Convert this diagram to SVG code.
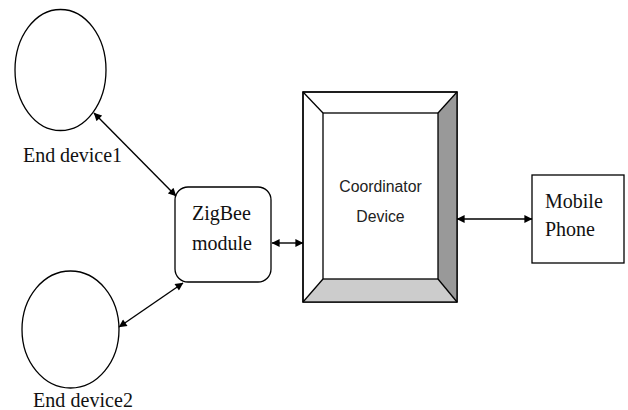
<svg xmlns="http://www.w3.org/2000/svg" width="628" height="410" viewBox="0 0 628 410">
<style>
.ln{stroke:#000;stroke-width:1.3;fill:none}
.sf{font-family:"Liberation Serif","Times New Roman",serif;font-size:20px;fill:#111}
.ss{font-family:"Liberation Sans",Arial,sans-serif;font-size:15.8px;fill:#222}
.con{stroke:#000;stroke-width:1.4;fill:none;marker-start:url(#ah);marker-end:url(#ah)}
</style>
<defs>
<marker id="ah" viewBox="0 0 10 10" refX="9.5" refY="5" markerWidth="9" markerHeight="8" markerUnits="userSpaceOnUse" orient="auto-start-reverse">
<path d="M0,0 L10,5 L0,10 z" fill="#000"/>
</marker>
</defs>
<rect width="628" height="410" fill="#fff"/>
<g id="end1">
<ellipse class="ln" cx="60.5" cy="70" rx="45.5" ry="60.5"/>
<text class="sf" x="23" y="162" textLength="99">End device1</text>
</g>
<g id="end2">
<ellipse class="ln" cx="70.5" cy="329.5" rx="48.5" ry="58.5"/>
<text class="sf" x="33" y="407" textLength="100">End device2</text>
</g>
<g id="zigbee">
<rect class="ln" x="175" y="187" width="96" height="95" rx="13"/>
<text class="sf" x="192" y="220">ZigBee</text>
<text class="sf" x="192" y="250">module</text>
</g>
<g id="coordinator">
<rect x="303" y="92" width="154" height="210" fill="#fff" stroke="#000" stroke-width="1.3"/>
<polygon points="438,113 457,92 457,302 438,279" fill="#999"/>
<polygon points="323,279 438,279 457,302 303,302" fill="#ccc"/>
<rect x="303" y="92" width="154" height="210" fill="none" stroke="#000" stroke-width="1.3"/>
<g class="ln" stroke-width="0.9">
<line x1="303" y1="92" x2="323" y2="113"/>
<line x1="457" y1="92" x2="438" y2="113"/>
<line x1="303" y1="302" x2="323" y2="279"/>
<line x1="457" y1="302" x2="438" y2="279"/>
</g>
<rect class="ln" x="323" y="113" width="115" height="166" fill="#fff"/>
<text class="ss" x="380.5" y="192" text-anchor="middle">Coordinator</text>
<text class="ss" x="380.5" y="222" text-anchor="middle">Device</text>
</g>
<g id="mobile">
<rect class="ln" x="532" y="175" width="92" height="88"/>
<text class="sf" x="545" y="208">Mobile</text>
<text class="sf" x="545" y="236">Phone</text>
</g>
<g id="connectors">
<line class="con" x1="94" y1="113" x2="176" y2="196"/>
<line class="con" x1="119" y1="327" x2="183" y2="283"/>
<line class="con" x1="272" y1="243" x2="303" y2="243"/>
<line class="con" x1="457" y1="219" x2="532" y2="219"/>
</g>
</svg>
